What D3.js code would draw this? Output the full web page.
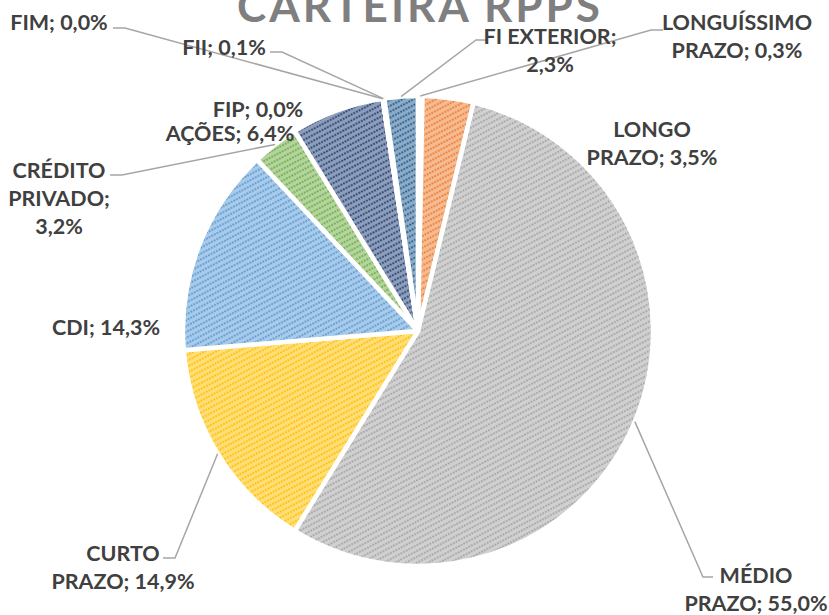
<!DOCTYPE html>
<html>
<head>
<meta charset="utf-8">
<script src="https://cdn.jsdelivr.net/npm/d3@7"></script>
<style>
  body { margin: 0; background: #fff; }
  svg text { font-family: Lato, "Open Sans", sans-serif; font-weight: 700; }
</style>
</head>
<body>
<div id="chart"></div>
<script>
// chart data
const categories = ['LONGUÍSSIMO PRAZO', 'LONGO PRAZO', 'MÉDIO PRAZO', 'CURTO PRAZO', 'CDI',
  'CRÉDITO PRIVADO', 'AÇÕES', 'FIP', 'FIM', 'FII', 'FI EXTERIOR'];
const values = [0.3, 3.5, 55.0, 14.9, 14.3, 3.2, 6.4, 0.0, 0.0, 0.1, 2.3];
const colors = ['#4472C4', '#ED7D31', '#A5A5A5', '#FFC000', '#5B9BD5',
  '#70AD47', '#264478', '#9E480E', '#636363', '#997300', '#255E91'];
// how each label is broken into lines
const labelLines = [
  ['LONGUÍSSIMO', 'PRAZO; 0,3%'], ['LONGO', 'PRAZO; 3,5%'], ['MÉDIO', 'PRAZO; 55,0%'],
  ['CURTO', 'PRAZO; 14,9%'], ['CDI; 14,3%'], ['CRÉDITO', 'PRIVADO;', '3,2%'],
  ['AÇÕES; 6,4%'], ['FIP; 0,0%'], ['FIM; 0,0%'], ['FII; 0,1%'], ['FI EXTERIOR;', '2,3%']
];
const title = 'CARTEIRA RPPS';

// label placement (x = centre of text, y = first baseline, lead = start of leader line or null)
const labelPos = [
  {x: 737, y: 30, lead: [663, 30, 651, 30]},
  {x: 652, y: 137, lead: null},
  {x: 756, y: 583, lead: [713, 577, 703, 577]},
  {x: 123, y: 561, lead: [163, 558, 175, 558]},
  {x: 106, y: 335, lead: null},
  {x: 59, y: 178, lead: [110, 175, 122, 175]},
  {x: 230, y: 141, lead: null},
  {x: 258, y: 117, lead: null},
  {x: 59, y: 30, lead: [113, 28, 125, 28]},
  {x: 224, y: 55, lead: [270, 52, 282, 52]},
  {x: 550, y: 44, lead: [486, 40, 476, 40]}
];

const width = 829, height = 615;
const cx = 418, cy = 331, radius = 235;

const svg = d3.select('#chart').append('svg')
  .attr('width', width)
  .attr('height', height);
const defs = svg.append('defs');

// hatched fills like the excel "wide upward diagonal" pattern
colors.forEach((c, i) => {
  const p = defs.append('pattern')
    .attr('id', 'hatch' + i)
    .attr('patternUnits', 'userSpaceOnUse')
    .attr('width', 6).attr('height', 5.2)
    .attr('patternTransform', 'rotate(-28)');
  p.append('rect').attr('width', 6).attr('height', 5.2)
    .attr('fill', d3.interpolateRgb(c, '#fff')(0.74));
  p.append('line')
    .attr('x1', 0).attr('x2', 6).attr('y1', 1.3).attr('y2', 1.3)
    .attr('stroke', c).attr('stroke-width', 1.8)
    .attr('stroke-dasharray', '2 1');

  const g = defs.append('radialGradient')
    .attr('id', 'shade' + i)
    .attr('gradientUnits', 'userSpaceOnUse')
    .attr('cx', cx).attr('cy', cy).attr('r', radius);
  g.append('stop').attr('offset', '0.82').attr('stop-color', c).attr('stop-opacity', 0);
  g.append('stop').attr('offset', '1').attr('stop-color', c).attr('stop-opacity', 0.35);
});

const pie = d3.pie().sort(null).value(d => d)(values);
const arc = d3.arc().innerRadius(0).outerRadius(radius);

const g = svg.append('g').attr('transform', `translate(${cx},${cy})`);

g.selectAll('path.slice')
  .data(pie)
  .join('path')
  .attr('class', 'slice')
  .attr('d', arc)
  .attr('fill', (d, i) => `url(#hatch${i})`);

// subtle darker rim
svg.append('g').selectAll('path')
  .data(pie)
  .join('path')
  .attr('transform', `translate(${cx},${cy})`)
  .attr('d', arc)
  .attr('fill', (d, i) => `url(#shade${i})`)
  .attr('stroke', '#fff')
  .attr('stroke-width', 4.5)
  .attr('stroke-linejoin', 'round');

// title
svg.append('text')
  .attr('x', 420).attr('y', 22)
  .attr('text-anchor', 'middle')
  .attr('fill', '#7f7f7f')
  .attr('font-size', 44)
  .attr('letter-spacing', 3)
  .text(title);

// leader lines
const mid = d => (d.startAngle + d.endAngle) / 2;
pie.forEach((d, i) => {
  const lp = labelPos[i];
  if (!lp.lead) return;
  const a = mid(d);
  const px = cx + Math.sin(a) * radius, py = cy - Math.cos(a) * radius;
  svg.append('polyline')
    .attr('points', [[lp.lead[0], lp.lead[1]], [lp.lead[2], lp.lead[3]], [px, py]].join(' '))
    .attr('fill', 'none')
    .attr('stroke', '#a6a6a6')
    .attr('stroke-width', 1.5);
});

// labels
const labels = svg.append('g');
labelLines.forEach((lines, i) => {
  const lp = labelPos[i];
  const t = labels.append('text')
    .attr('text-anchor', 'middle')
    .attr('fill', '#404040')
    .attr('font-size', 21.5);
  lines.forEach((s, j) => {
    t.append('tspan').attr('x', lp.x).attr('y', lp.y + j * 28).text(s);
  });
});
</script>
</body>
</html>
